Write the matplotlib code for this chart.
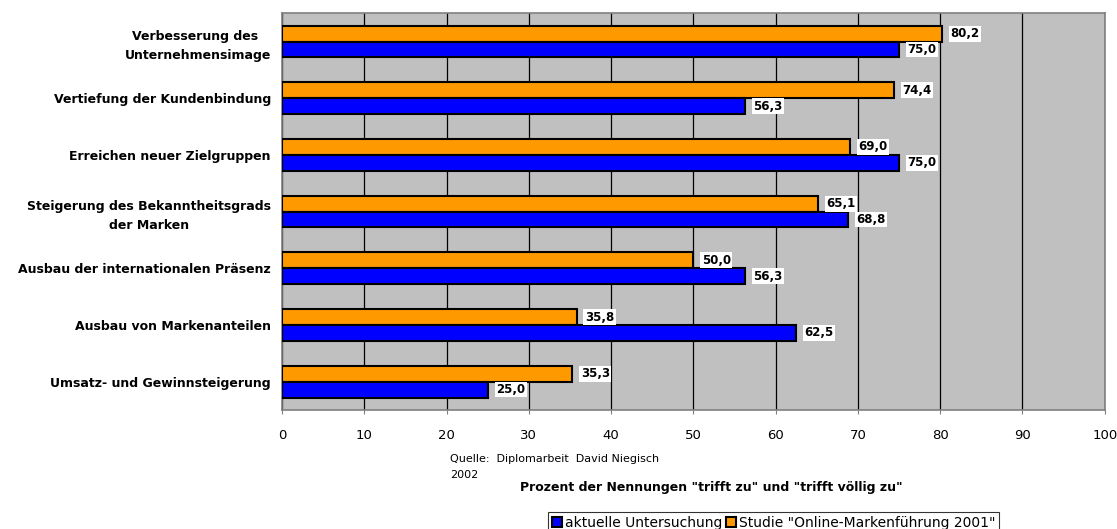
import matplotlib.pyplot as plt
import numpy as np

plt.rcParams['font.family'] = ['DejaVu Sans']

categories = [
    "Verbesserung des \nUnternehmensimage",
    "Vertiefung der Kundenbindung",
    "Erreichen neuer Zielgruppen",
    "Steigerung des Bekanntheitsgrads\nder Marken",
    "Ausbau der internationalen Präsenz",
    "Ausbau von Markenanteilen",
    "Umsatz- und Gewinnsteigerung",
]
aktuell = [75.0, 56.3, 75.0, 68.8, 56.3, 62.5, 25.0]
studie = [80.2, 74.4, 69.0, 65.1, 50.0, 35.8, 35.3]
xticks = list(range(0, 101, 10))

BLUE = '#0000FF'
ORANGE = '#FF9900'

fig = plt.figure(figsize=(11.17, 5.29), dpi=100)
ax = fig.add_axes([0.2525, 0.225, 0.7365, 0.75])
ax.set_facecolor('#C0C0C0')

y = np.arange(len(categories))
h = 0.28
b_or = ax.barh(y - h / 2, studie, height=h, color=ORANGE, edgecolor='black',
               linewidth=1.5, zorder=3, label='Studie "Online-Markenführung 2001"')
b_bl = ax.barh(y + h / 2, aktuell, height=h, color=BLUE, edgecolor='black',
               linewidth=1.5, zorder=3, label='aktuelle Untersuchung')

def fmt(v):
    return f"{v:.1f}".replace('.', ',')

for bars, vals in ((b_or, studie), (b_bl, aktuell)):
    for rect, v in zip(bars, vals):
        ax.annotate(fmt(v), (v, rect.get_y() + rect.get_height() / 2),
                    xytext=(6, 0), textcoords='offset points',
                    ha='left', va='center', fontsize=8.5, fontweight='bold',
                    bbox=dict(boxstyle='square,pad=0.12', fc='white', ec='none'),
                    zorder=4)

ax.set_xlim(0, 100)
ax.set_ylim(len(categories) - 0.5, -0.5)
ax.set_xticks(xticks)
ax.xaxis.grid(True, color='black', linewidth=0.9, zorder=1)
ax.set_axisbelow(True)
ax.tick_params(axis='x', length=3, labelsize=9.5, pad=11, color='#808080')
ax.set_yticks(y)
ax.set_yticklabels(categories, fontsize=9, fontweight='bold',
                   multialignment='center', linespacing=1.6)
ax.tick_params(axis='y', length=0, pad=8)
for s in ax.spines.values():
    s.set_color('#808080')
    s.set_linewidth(1.2)

fig.text(711 / 1117, 1 - 487 / 529,
         'Prozent der Nennungen "trifft zu" und "trifft völlig zu"',
         fontsize=9, fontweight='bold', ha='center', va='center')

fig.text(450 / 1117, 1 - 454 / 529, 'Quelle:  Diplomarbeit  David Niegisch\n2002',
         fontsize=8, ha='left', va='top', linespacing=1.8)

handles = [b_bl, b_or]
labels = [h_.get_label() for h_ in handles]
lgd = fig.legend(handles, labels, loc='upper left',
                 bbox_to_anchor=(548 / 1117, 1 - 512 / 529), ncol=2,
                 fontsize=10, frameon=True, fancybox=False, edgecolor='black',
                 handlelength=0.7, handleheight=0.7, handletextpad=0.2,
                 columnspacing=0.3, borderpad=0.3, borderaxespad=0)
lgd.get_frame().set_linewidth(0.8)

fig.savefig('out.png', dpi=100)
